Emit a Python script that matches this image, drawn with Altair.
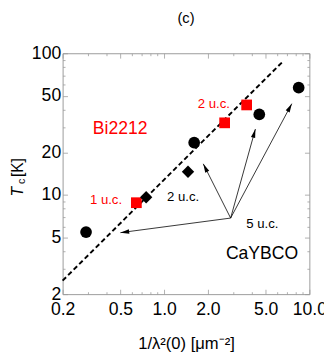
import math
import altair as alt
import pandas as pd

# ---------------- data ----------------
circle_x = [0.29, 1.61, 4.52, 8.44]
circle_y = [5.48, 23.4, 37.0, 57.2]
square_x = [0.644, 2.61, 3.70]
square_y = [8.83, 32.3, 43.2]
diamond_x = [0.752, 1.46]
diamond_y = [9.65, 14.6]
fit_x = [0.2, 6.59]
fit_y = [2.49, 87.7]
arrow_from_x = 2.87
arrow_from_y = 6.88
arrow_to_x = [0.50, 1.86, 4.25, 7.57]
arrow_to_y = [5.43, 16.6, 29.2, 44.1]
label_text = ["Bi2212", "2 u.c.", "1 u.c.", "2 u.c.", "5 u.c.", "CaYBCO"]
label_x = [0.498, 2.20, 0.398, 1.35, 4.74, 4.72]
label_y = [29.2, 44.1, 9.25, 9.6, 6.19, 3.83]
label_color = ["#ff0000", "#ff0000", "#ff0000", "black", "black", "black"]
label_size = [18, 13.5, 13.5, 13.5, 13.5, 18]
x_major = [0.2, 0.5, 1, 2, 5, 10]
x_minor = [0.3, 0.4, 0.6, 0.7, 0.8, 0.9, 3, 4, 6, 7, 8, 9]
y_major = [2, 5, 10, 20, 50, 100]
y_minor = [3, 4, 6, 7, 8, 9, 30, 40, 60, 70, 80, 90]
x_domain = [0.2, 10]
y_domain = [2, 100]
panel_title = "(c)"
x_title = "1/λ²(0) [μm⁻²]"

W, H = 253, 247
FONT = "Liberation Sans"
FRAME = "#9a9a9a"

xs = alt.Scale(type="log", domain=x_domain, nice=False)
ys = alt.Scale(type="log", domain=y_domain, nice=False)


def axis(orient, values, size, labels=False, **kw):
    return alt.Axis(orient=orient, values=values, labels=labels, ticks=True,
                    tickSize={"expr": str(-size)}, tickColor=FRAME, tickWidth=0.8,
                    domain=False, grid=False, title=None, **kw)


x_bottom_major = alt.Axis(orient="bottom", values=x_major, labels=True, ticks=True,
                          tickSize={"expr": "-5"}, tickColor=FRAME, tickWidth=0.8,
                          domain=False, grid=False, format=".1f",
                          labelFont=FONT, labelFontSize=18, labelColor="black",
                          labelPadding=12, labelFlush=False, labelOverlap=False,
                          title=x_title, titleFont=FONT, titleFontSize=17,
                          titleFontWeight="normal", titleColor="black", titlePadding=18)
y_left_major = alt.Axis(orient="left", values=y_major, labels=True, ticks=True,
                        tickSize={"expr": "-5"}, tickColor=FRAME, tickWidth=0.8,
                        domain=False, grid=False, format="d",
                        labelFont=FONT, labelFontSize=18, labelColor="black",
                        labelPadding=7, labelFlush=False, labelOverlap=False, title=None)

circles_df = pd.DataFrame({"x": circle_x, "y": circle_y})
squares_df = pd.DataFrame({"x": square_x, "y": square_y})
diamonds_df = pd.DataFrame({"x": diamond_x, "y": diamond_y})
fit_df = pd.DataFrame({"x": fit_x, "y": fit_y})

kx = W / math.log10(x_domain[1] / x_domain[0])
ky = H / math.log10(y_domain[1] / y_domain[0])
angles = []
for tx, ty in zip(arrow_to_x, arrow_to_y):
    dx = math.log10(tx / arrow_from_x) * kx
    dy = math.log10(ty / arrow_from_y) * ky
    angles.append(math.degrees(math.atan2(dx, dy)) % 360)
arrows_df = pd.DataFrame({"fx": [arrow_from_x] * len(arrow_to_x), "fy": [arrow_from_y] * len(arrow_to_y),
                          "tx": arrow_to_x, "ty": arrow_to_y, "angle": angles})
labels_df = pd.DataFrame({"x": label_x, "y": label_y, "t": label_text,
                          "c": label_color, "s": label_size})

fit = alt.Chart(fit_df).mark_line(color="black", strokeWidth=2, strokeDash=[5, 3]).encode(
    x=alt.X("x:Q", scale=xs, axis=axis("top", x_minor, 2.5)),
    y=alt.Y("y:Q", scale=ys, axis=axis("right", y_minor, 2.5)),
)
circles = alt.Chart(circles_df).mark_point(shape="circle", filled=True, size=144,
                                           color="black", opacity=1).encode(
    x=alt.X("x:Q", scale=xs, axis=x_bottom_major),
    y=alt.Y("y:Q", scale=ys, axis=y_left_major),
)
squares = alt.Chart(squares_df).mark_point(shape="square", filled=True, size=121,
                                           color="#ff0000", opacity=1).encode(
    x=alt.X("x:Q", scale=xs, axis=axis("bottom", x_minor, 2.5)),
    y=alt.Y("y:Q", scale=ys, axis=axis("left", y_minor, 2.5)),
)
diamonds = alt.Chart(diamonds_df).mark_point(shape="diamond", filled=True, size=160,
                                             color="black", opacity=1).encode(
    x=alt.X("x:Q", scale=xs, axis=axis("top", x_major, 5)),
    y=alt.Y("y:Q", scale=ys, axis=axis("right", y_major, 5)),
)
arrow_lines = alt.Chart(arrows_df).mark_rule(color="black", strokeWidth=0.8).encode(
    x=alt.X("fx:Q", scale=xs, axis=None),
    y=alt.Y("fy:Q", scale=ys, axis=None),
    x2="tx:Q", y2="ty:Q",
)
arrow_heads = alt.Chart(arrows_df).mark_point(
    shape="M0,0L-0.25,1L0.25,1Z", filled=True, size=324, color="black", opacity=1).encode(
    x=alt.X("tx:Q", scale=xs, axis=None),
    y=alt.Y("ty:Q", scale=ys, axis=None),
    angle=alt.Angle("angle:Q", scale=None),
)
labels = alt.Chart(labels_df).mark_text(font=FONT, align="center", baseline="middle").encode(
    x=alt.X("x:Q", scale=xs, axis=None),
    y=alt.Y("y:Q", scale=ys, axis=None),
    text="t:N",
    color=alt.Color("c:N", scale=None),
    size=alt.Size("s:Q", scale=None),
)

# panel title "(c)"
title_mark = alt.Chart(pd.DataFrame({"t": [panel_title]})).mark_text(
    font=FONT, fontSize=15, align="center", baseline="alphabetic", color="black").encode(
    text="t:N", x=alt.value(W / 2), y=alt.value(-31))

# y-axis title "T_c [K]" (italic T, subscript c)
ytitle_T = alt.Chart(pd.DataFrame({"t": ["T"]})).mark_text(
    font=FONT, fontSize=16, fontStyle="italic", angle=270,
    align="left", baseline="alphabetic", color="black").encode(
    text="t:N", x=alt.value(-41), y=alt.value(147))
ytitle_c = alt.Chart(pd.DataFrame({"t": ["c"]})).mark_text(
    font=FONT, fontSize=11, angle=270,
    align="left", baseline="alphabetic", color="black").encode(
    text="t:N", x=alt.value(-39), y=alt.value(134))
ytitle_K = alt.Chart(pd.DataFrame({"t": ["[K]"]})).mark_text(
    font=FONT, fontSize=16, angle=270,
    align="left", baseline="alphabetic", color="black").encode(
    text="t:N", x=alt.value(-41), y=alt.value(127))

chart = alt.layer(
    fit, arrow_lines, arrow_heads, circles, squares, diamonds, labels,
    title_mark, ytitle_T, ytitle_c, ytitle_K,
).resolve_axis(x="independent", y="independent").properties(
    width=W, height=H,
    autosize=alt.AutoSizeParams(type="none"),
    padding={"left": 56, "top": 42, "right": 15, "bottom": 58},
).configure_view(stroke=FRAME, strokeWidth=1)

chart.save("out.html", embed_options={"renderer": "svg", "actions": False})
